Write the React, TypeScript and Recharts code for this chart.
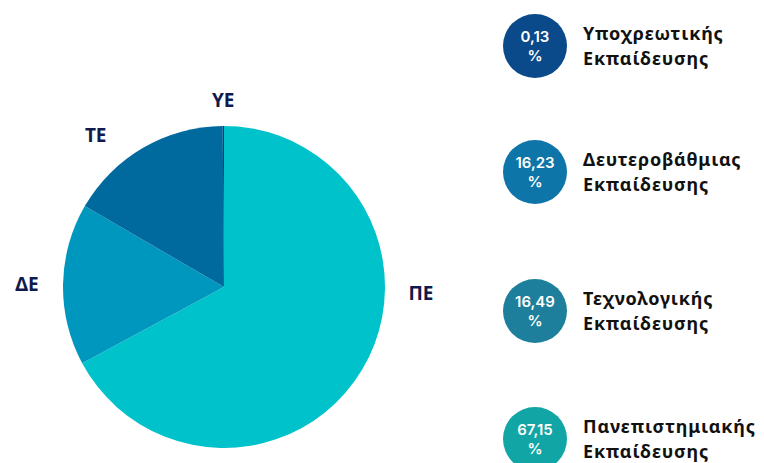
import React from 'react';
import { PieChart, Pie, Cell } from 'recharts';

// slices, clockwise from 12 o'clock
const sliceNames = ['ΠΕ', 'ΔΕ', 'ΤΕ', 'ΥΕ'];
const sliceValues = [67.15, 16.23, 16.49, 0.13];
const sliceColors = ['#00C2CB', '#0097BE', '#00699E', '#003F80'];

// legend on the right, top to bottom
const legendValues = [0.13, 16.23, 16.49, 67.15];
const legendNames = ['Υποχρεωτικής', 'Δευτεροβάθμιας', 'Τεχνολογικής', 'Πανεπιστημιακής'];
const legendColors = ['#0A4A8A', '#0E75A8', '#1E7F9C', '#12A5A5'];
const legendTops = [14, 140, 279, 407];

const data = sliceNames.map((name, i) => ({ name, value: sliceValues[i] }));

const RAD = Math.PI / 180;

// small nudges so the labels sit where the original put them
const labelNudge: Record<string, [number, number]> = {
  'ΠΕ': [29, 0],
  'ΤΕ': [10, 2],
  'ΥΕ': [0, -10],
};

const renderLabel = (props: any) => {
  const { cx, cy, midAngle, outerRadius, name } = props;
  const [da, dr] = labelNudge[name] ?? [0, 0];
  const a = (midAngle + da) * RAD;
  const r = outerRadius + 36 + dr;
  const x = cx + r * Math.cos(a);
  const y = cy - r * Math.sin(a);
  return (
    <text
      x={x}
      y={y}
      textAnchor="middle"
      dominantBaseline="central"
      fill="#111A4E"
      style={{ fontFamily: '"Noto Sans", sans-serif', fontSize: 19, fontWeight: 700 }}
    >
      {name}
    </text>
  );
};

const fmt = (v: number) => v.toFixed(2).replace('.', ',');

export default function App() {
  return (
    <div style={{ position: 'fixed', top: 0, left: 0, width: 764, height: 463, overflow: 'hidden', background: '#fff' }}>
      <PieChart
        width={480}
        height={463}
        margin={{ top: 0, right: 0, bottom: 0, left: 0 }}
        style={{ position: 'absolute', left: 0, top: 0 }}
      >
        <Pie
          data={data}
          dataKey="value"
          nameKey="name"
          cx={224}
          cy={287}
          outerRadius={161}
          startAngle={90}
          endAngle={-270}
          stroke="none"
          label={renderLabel}
          labelLine={false}
          isAnimationActive={false}
        >
          {data.map((d, i) => (
            <Cell key={d.name} fill={sliceColors[i]} />
          ))}
        </Pie>
      </PieChart>

      {legendNames.map((n, i) => (
        <div
          key={n}
          style={{ position: 'absolute', left: 503, top: legendTops[i], display: 'flex', alignItems: 'center' }}
        >
          <div
            style={{
              width: 64, height: 64, borderRadius: '50%', background: legendColors[i],
              color: '#fff', display: 'flex', flexDirection: 'column', alignItems: 'center', justifyContent: 'center',
              fontFamily: 'Inter, sans-serif', fontSize: 15, fontWeight: 600,
            }}
          >
            <div style={{ lineHeight: '19px', height: 19 }}>{fmt(legendValues[i])}</div>
            <div style={{ lineHeight: '19px', height: 19 }}>%</div>
          </div>
          <div
            style={{
              marginLeft: 16, fontFamily: '"Noto Sans", sans-serif', fontSize: 18, fontWeight: 700,
              lineHeight: '25px', color: '#111', letterSpacing: 0.8,
            }}
          >
            <div>{n}</div>
            <div>Εκπαίδευσης</div>
          </div>
        </div>
      ))}
    </div>
  );
}
